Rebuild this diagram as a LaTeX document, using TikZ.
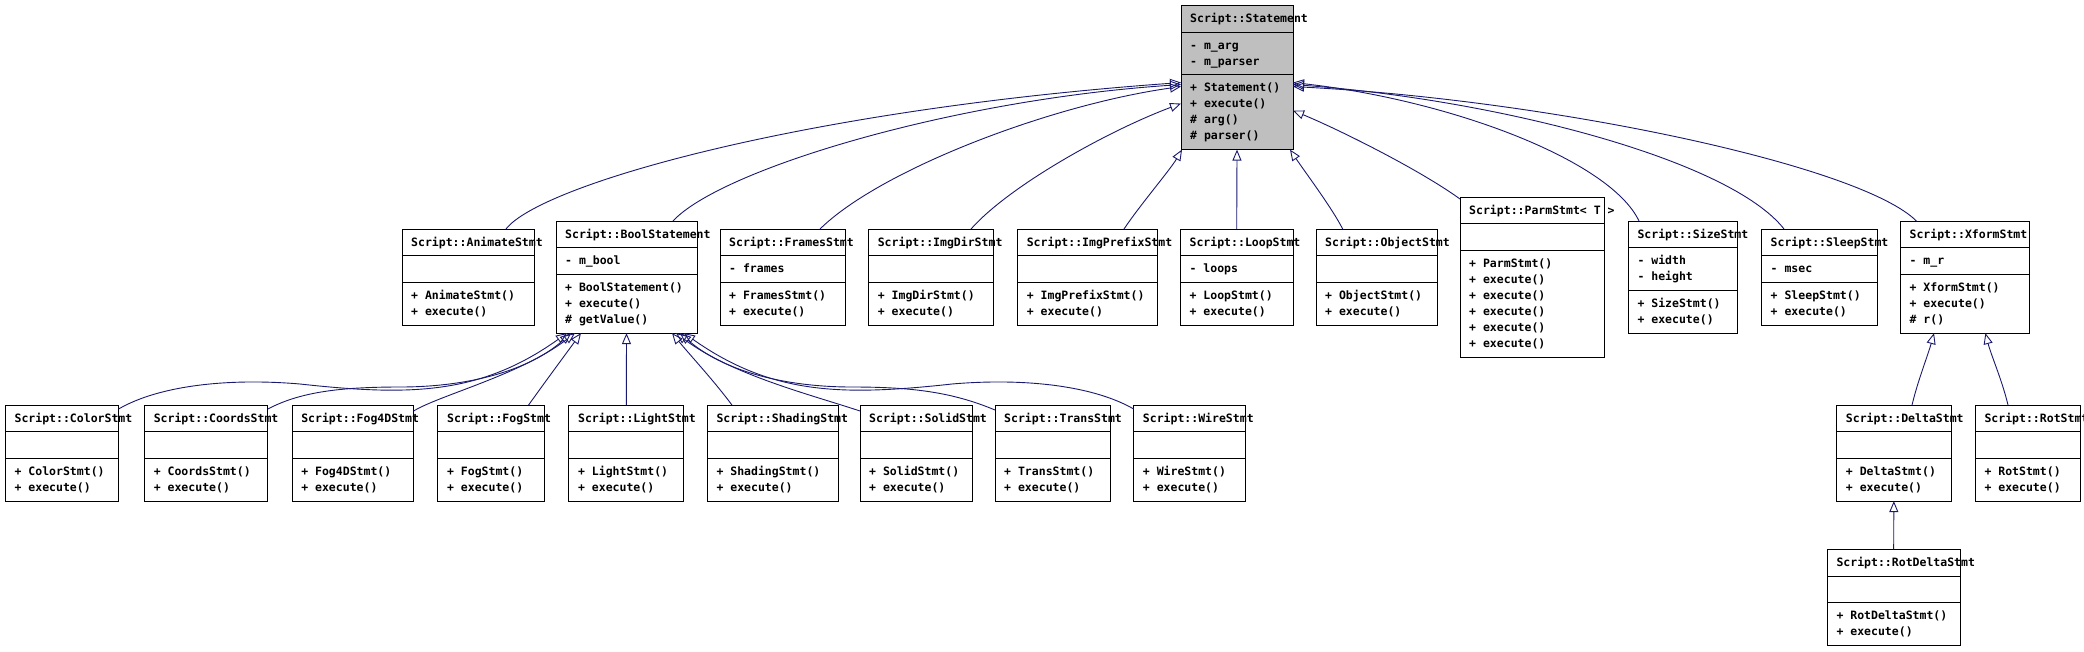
\documentclass[tikz,border=0pt]{standalone}
\usepackage{fontspec}
\setmonofont{DejaVu Sans Mono}
\usetikzlibrary{arrows.meta}
\definecolor{edgeblue}{RGB}{25,25,112}
\definecolor{basegray}{RGB}{191,191,191}
\tikzset{
 classbox/.style={draw=black, line width=1pt, rectangle, inner sep=0pt, outer sep=0pt},
 divider/.style={draw=black, line width=1pt},
 classtext/.style={anchor=base west, inner sep=0pt, font=\fontsize{11.5}{16}\selectfont\ttfamily\bfseries},
 inh/.style={draw=edgeblue, line width=0.9pt, -{Triangle[open, length=11pt, width=9pt, line width=0.9pt]}},
}
% #1 name, #2 left, #3 top, #4 width, #5 title, #6 n attrs, #7 attrs, #8 n methods, #9 methods
\newcommand\umlbox[9]{%
 \pgfmathsetmacro\umlHa{#6<1 ? 26.7 : 10.7+16*#6}%
 \pgfmathsetmacro\umlHm{10.7+16*#8}%
 \pgfmathsetmacro\umlHt{26.7+\umlHa+\umlHm}%
 \node[classbox, minimum width=#4pt, minimum height=\umlHt pt, anchor=north west] (#1) at (#2,#3) {};
 \draw[divider] (#2,#3+26.7) -- ++(#4,0);
 \draw[divider] (#2,#3+26.7+\umlHa) -- ++(#4,0);
 \node[classtext] at (#2+9,#3+17) {#5};
 \ifnum#6>0
  \foreach \umlline [count=\umlk] in {#7} {\node[classtext] at (#2+9,#3+26.7+17+16*\umlk-16) {\umlline};}
 \fi
 \foreach \umlline [count=\umlk] in {#9} {\node[classtext] at (#2+9,#3+26.7+\umlHa+17+16*\umlk-16) {\umlline};}
}
\begin{document}
\begin{tikzpicture}[x=1pt,y=-1pt]
\fill[white] (0,0) rectangle (2084,651);
\useasboundingbox (0,0) rectangle (2084,651);
% base class
\fill[basegray] (1181,5.5) rectangle ++(112,144.1);
\umlbox{statement}{1181}{5.5}{112}{Script::Statement}{2}{- m\_arg, - m\_parser}{4}{+ Statement(), + execute(), \# arg(), \# parser()}
% rank 1
\umlbox{animate}{402}{229}{132}{Script::AnimateStmt}{0}{}{2}{+ AnimateStmt(), + execute()}
\umlbox{bool}{556}{221}{141}{Script::BoolStatement}{1}{- m\_bool}{3}{+ BoolStatement(), + execute(), \# getValue()}
\umlbox{frames}{720}{229}{125}{Script::FramesStmt}{1}{- frames}{2}{+ FramesStmt(), + execute()}
\umlbox{imgdir}{868.6}{229}{125}{Script::ImgDirStmt}{0}{}{2}{+ ImgDirStmt(), + execute()}
\umlbox{imgprefix}{1017.6}{229}{140}{Script::ImgPrefixStmt}{0}{}{2}{+ ImgPrefixStmt(), + execute()}
\umlbox{loop}{1180.4}{229}{112.6}{Script::LoopStmt}{1}{- loops}{2}{+ LoopStmt(), + execute()}
\umlbox{object}{1316}{229}{121.3}{Script::ObjectStmt}{0}{}{2}{+ ObjectStmt(), + execute()}
\umlbox{parm}{1460}{197}{144.6}{Script::ParmStmt< T >}{0}{}{6}{+ ParmStmt(), + execute(), + execute(), + execute(), + execute(), + execute()}
\umlbox{size}{1628.3}{221}{109.4}{Script::SizeStmt}{2}{- width, - height}{2}{+ SizeStmt(), + execute()}
\umlbox{sleep}{1761.5}{229}{116}{Script::SleepStmt}{1}{- msec}{2}{+ SleepStmt(), + execute()}
\umlbox{xform}{1900.4}{221}{129}{Script::XformStmt}{1}{- m\_r}{3}{+ XformStmt(), + execute(), \# r()}
% rank 2
\umlbox{color}{5.4}{405}{113.2}{Script::ColorStmt}{0}{}{2}{+ ColorStmt(), + execute()}
\umlbox{coords}{144.6}{405}{123.3}{Script::CoordsStmt}{0}{}{2}{+ CoordsStmt(), + execute()}
\umlbox{fogfd}{292.1}{405}{121.5}{Script::Fog4DStmt}{0}{}{2}{+ Fog4DStmt(), + execute()}
\umlbox{fog}{437.9}{405}{106.7}{Script::FogStmt}{0}{}{2}{+ FogStmt(), + execute()}
\umlbox{light}{568.9}{405}{114.8}{Script::LightStmt}{0}{}{2}{+ LightStmt(), + execute()}
\umlbox{shading}{707.3}{405}{131}{Script::ShadingStmt}{0}{}{2}{+ ShadingStmt(), + execute()}
\umlbox{solid}{860}{405}{112}{Script::SolidStmt}{0}{}{2}{+ SolidStmt(), + execute()}
\umlbox{trans}{995}{405}{115}{Script::TransStmt}{0}{}{2}{+ TransStmt(), + execute()}
\umlbox{wire}{1133.7}{405}{111.6}{Script::WireStmt}{0}{}{2}{+ WireStmt(), + execute()}
\umlbox{delta}{1836.7}{405}{114.3}{Script::DeltaStmt}{0}{}{2}{+ DeltaStmt(), + execute()}
\umlbox{rot}{1975.3}{405}{104.7}{Script::RotStmt}{0}{}{2}{+ RotStmt(), + execute()}
% rank 3
\umlbox{rotdelta}{1827.3}{549.4}{132.7}{Script::RotDeltaStmt}{0}{}{2}{+ RotDeltaStmt(), + execute()}
% edges to Statement
\draw[inh] ([xshift=104pt]animate.north west) .. controls (540,185) and (800,110) .. ([yshift=-5pt]statement.west);
\draw[inh] ([xshift=117pt]bool.north west) .. controls (720,170) and (950,100) .. ([yshift=-7pt]statement.west);
\draw[inh] ([xshift=100pt]frames.north west) .. controls (880,170) and (1050,105) .. ([yshift=-9pt]statement.west);
\draw[inh] ([xshift=102.4pt]imgdir.north west) .. controls (1010,185) and (1110,130) .. ([yshift=-26pt]statement.west);
\draw[inh] ([xshift=106.4pt]imgprefix.north west) .. controls (1140,205) and (1170,170) .. ([xshift=1pt]statement.south west);
\draw[inh] (loop.north) -- (statement.south);
\draw[inh] ([xshift=26.7pt]object.north west) .. controls (1332,208) and (1305,172) .. ([xshift=-3pt]statement.south east);
\draw[inh] ([yshift=-2pt]parm.north west) .. controls (1420,170) and (1340,130) .. ([yshift=-33pt]statement.east);
\draw[inh] ([xshift=10.7pt]size.north west) .. controls (1610,160) and (1450,100) .. ([yshift=-5pt]statement.east);
\draw[inh] ([xshift=22.5pt]sleep.north west) .. controls (1730,160) and (1500,100) .. ([yshift=-7pt]statement.east);
\draw[inh] ([xshift=16pt]xform.north west) .. controls (1860,165) and (1550,100) .. ([yshift=-9pt]statement.east);
% edges to BoolStatement
\draw[inh] ([yshift=-4pt]color.north east) .. controls (160,385) and (230,378) .. (300,384) .. controls (410,396) and (480,395) .. ([xshift=11pt]bool.south west);
\draw[inh] ([yshift=-4pt]coords.north east) .. controls (300,392) and (340,387) .. (400,387) .. controls (470,387) and (530,370) .. ([xshift=15pt]bool.south west);
\draw[inh] ([yshift=-6pt]fogfd.north east) .. controls (440,395) and (520,375) .. ([xshift=19pt]bool.south west);
\draw[inh] ([xshift=90.7pt]fog.north west) .. controls (545,382) and (565,355) .. ([xshift=25pt]bool.south west);
\draw[inh] (light.north) -- (bool.south);
\draw[inh] ([xshift=24.6pt]shading.north west) .. controls (715,382) and (690,355) .. ([xshift=-25pt]bool.south east);
\draw[inh] ([yshift=-6pt]solid.north west) .. controls (812,395) and (732,375) .. ([xshift=-21pt]bool.south east);
\draw[inh] ([yshift=-5pt]trans.north west) .. controls (952,392) and (912,387) .. (852,387) .. controls (782,387) and (722,370) .. ([xshift=-17pt]bool.south east);
\draw[inh] ([yshift=-4pt]wire.north west) .. controls (1092,385) and (1022,378) .. (952,384) .. controls (842,396) and (772,395) .. ([xshift=-13pt]bool.south east);
% edges to XformStmt and DeltaStmt
\draw[inh] ([xshift=75.3pt]delta.north west) .. controls (1918,380) and (1928,355) .. ([xshift=33.6pt]xform.south west);
\draw[inh] ([xshift=32.7pt]rot.north west) .. controls (2002,380) and (1991,355) .. ([xshift=85pt]xform.south west);
\draw[inh] (rotdelta.north) -- (delta.south);
\end{tikzpicture}
\end{document}
